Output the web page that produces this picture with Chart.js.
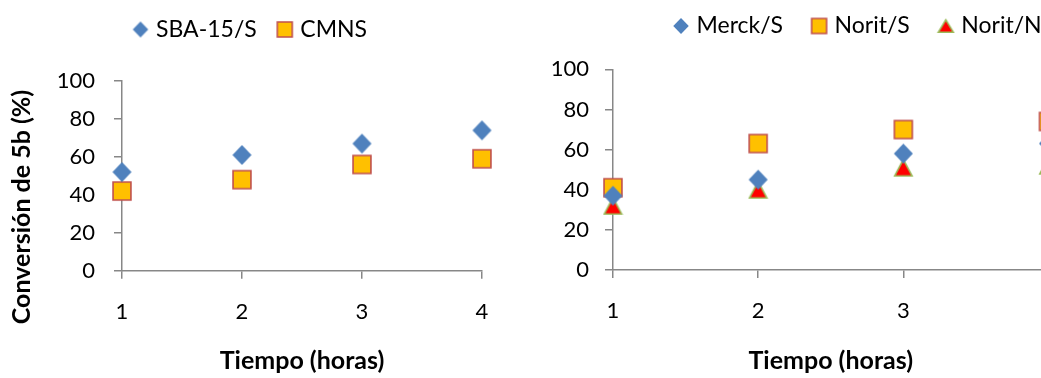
<!DOCTYPE html>
<html>
<head>
<meta charset="utf-8">
<title>Conversión de 5b frente al tiempo</title>
<script src="https://cdn.jsdelivr.net/npm/chart.js@4.4.1/dist/chart.umd.min.js"></script>
<style>
  html, body { margin: 0; padding: 0; background: #fff; overflow: hidden; width: 1041px; height: 378px; }
  #wrap { position: relative; width: 1041px; height: 378px; overflow: hidden; }
  canvas { position: absolute; top: 0; }
  #left { left: 0; }
  #right { left: 520px; }
</style>
</head>
<body>
<div id="wrap">
  <canvas id="left" width="520" height="378"></canvas>
  <canvas id="right" width="560" height="378"></canvas>
</div>
<script>
// Reaction time (hours) and conversion of 5b (%) per catalyst
const hours = [1, 2, 3, 4];
const hourTicks = [1, 2, 3, 4];
const pctTicks = [0, 20, 40, 60, 80, 100];

const sba15S = [52, 61, 67, 74];
const cmns   = [42, 48, 56, 59];

const merckS = [37, 45, 58, 63];
const noritS = [41, 63, 70, 74];
const noritN = [32, 40, 51, 52];

const yTitle = 'Conversión de 5b (%)';
const xTitle = 'Tiempo (horas)';

const FONT = 'Lato';
const AXIS_GREY = '#878787';
const TICK_SIZE = 22;
const LEGEND_SIZE = 23;
const TITLE_SIZE = 25;

// Marker sprites (Excel-like diamond, square and triangle)
function marker(kind, w, h) {
  const c = document.createElement('canvas');
  c.width = Math.ceil(w) + 2;
  c.height = Math.ceil(h) + 2;
  const g = c.getContext('2d');
  const cx = c.width / 2, cy = c.height / 2;
  const lw = 1.6;
  g.beginPath();
  if (kind === 'diamond') {
    g.moveTo(cx, cy - h / 2);
    g.lineTo(cx + w / 2, cy);
    g.lineTo(cx, cy + h / 2);
    g.lineTo(cx - w / 2, cy);
    g.closePath();
    g.fillStyle = '#4f81bd';
    g.fill();
  } else if (kind === 'square') {
    g.rect(cx - w / 2 + lw / 2, cy - h / 2 + lw / 2, w - lw, h - lw);
    g.fillStyle = '#ffc000';
    g.fill();
    g.lineWidth = lw;
    g.strokeStyle = '#c0504d';
    g.stroke();
  } else {
    g.moveTo(cx, cy - h / 2 + lw / 2);
    g.lineTo(cx + w / 2 - lw / 2, cy + h / 2 - lw / 2);
    g.lineTo(cx - w / 2 + lw / 2, cy + h / 2 - lw / 2);
    g.closePath();
    g.fillStyle = '#ff0000';
    g.fill();
    g.lineWidth = lw;
    g.strokeStyle = '#9bbb59';
    g.stroke();
  }
  return c;
}

const pts = ys => hours.map((h, i) => ({ x: h, y: ys[i] }));

// Places the legend row at a fixed anchor (left edge of the first marker box, row centre)
const legendAnchor = {
  id: 'legendAnchor',
  afterLayout(chart, args, o) {
    const lg = chart.legend;
    if (!lg || o.x == null) return;
    const pad = lg.options.labels.padding;
    const w = lg.width, h = lg.height;
    lg.left = o.x - pad;
    lg.right = lg.left + w;
    lg.top = o.y - pad - o.fontSize / 2;
    lg.bottom = lg.top + h;
  }
};

// Rotated axis title drawn beside the value axis
const sideTitle = {
  id: 'sideTitle',
  afterDraw(chart, args, o) {
    if (!o.text) return;
    const ctx = chart.ctx;
    ctx.save();
    ctx.translate(o.x, o.y);
    ctx.rotate(-Math.PI / 2);
    ctx.font = o.font;
    ctx.fillStyle = o.color;
    ctx.textAlign = 'center';
    ctx.textBaseline = 'middle';
    ctx.fillText(o.text, 0, 0);
    ctx.restore();
  }
};

function makeChart(canvasId, datasets, legendMarks, s) {
  const tickFont = { family: FONT, size: TICK_SIZE };
  const legendFont = { family: FONT, size: LEGEND_SIZE };
  const titleFont = { family: FONT, size: TITLE_SIZE, weight: 'bold' };
  return new Chart(document.getElementById(canvasId), {
    type: 'scatter',
    data: { datasets },
    options: {
      responsive: false,
      animation: false,
      devicePixelRatio: 1,
      events: [],
      layout: { padding: { top: s.padTop, left: 0, right: s.padRight, bottom: 0 } },
      elements: { point: { radius: 11, hoverRadius: 11 } },
      plugins: {
        tooltip: { enabled: false },
        legend: {
          display: true,
          position: 'top',
          align: 'start',
          labels: {
            usePointStyle: true,
            boxWidth: 8,
            padding: s.legendGap,
            color: '#000',
            font: legendFont,
            generateLabels: chart => chart.data.datasets.map((ds, i) => ({
              text: ds.label,
              pointStyle: legendMarks[i],
              fillStyle: '#000',
              strokeStyle: '#000',
              lineWidth: 0,
              hidden: false,
              datasetIndex: i
            }))
          }
        },
        legendAnchor: { x: s.legendX, y: s.legendY, fontSize: LEGEND_SIZE },
        sideTitle: s.sideTitle || {}
      },
      scales: {
        x: {
          type: 'linear',
          min: hourTicks[0],
          max: hourTicks[hourTicks.length - 1],
          afterBuildTicks: sc => { sc.ticks = hourTicks.map(v => ({ value: v })); },
          afterFit: sc => { sc.height = s.xHeight; },
          grid: { drawOnChartArea: false, drawTicks: true, tickLength: 8, color: AXIS_GREY, lineWidth: 1.5 },
          border: { display: true, color: AXIS_GREY, width: 1.5 },
          ticks: { padding: 20, color: '#000', font: tickFont, callback: v => String(v) },
          title: { display: true, text: xTitle, color: '#000', font: titleFont, padding: { top: 0, bottom: 2 } }
        },
        y: {
          type: 'linear',
          min: pctTicks[0],
          max: pctTicks[pctTicks.length - 1],
          afterBuildTicks: sc => { sc.ticks = pctTicks.map(v => ({ value: v })); },
          afterFit: sc => { sc.width = s.yWidth; },
          grid: { drawOnChartArea: false, drawTicks: true, tickLength: 8, color: AXIS_GREY, lineWidth: 1.5 },
          border: { display: true, color: AXIS_GREY, width: 1.5 },
          ticks: { padding: s.yTickPad, color: '#000', font: tickFont, callback: v => String(v) }
        }
      }
    },
    plugins: [legendAnchor, sideTitle]
  });
}

function draw() {
  const diamondBig = marker('diamond', 19, 20);
  const squareBig = marker('square', 19.5, 19.5);
  const triangleBig = marker('triangle', 19, 18);
  const diamondSmall = marker('diamond', 15.5, 16);
  const squareSmall = marker('square', 16.5, 16.5);
  const triangleSmall = marker('triangle', 16.5, 14);

  // legend height = font + gap + 10, so padTop keeps the plot top fixed
  makeChart('left', [
    { label: 'SBA-15/S', data: pts(sba15S), pointStyle: diamondBig, clip: false },
    { label: 'CMNS', data: pts(cmns), pointStyle: squareBig, clip: false }
  ], [diamondSmall, squareSmall], {
    padTop: 81 - (LEGEND_SIZE + 24 + 10), padRight: 38, yWidth: 122, xHeight: 378 - 270.7, yTickPad: 19,
    legendGap: 24, legendX: 136.5, legendY: 29.5,
    sideTitle: { text: yTitle, x: 22, y: 207, font: 'bold ' + TITLE_SIZE + 'px ' + FONT, color: '#000' }
  });

  makeChart('right', [
    { label: 'Merck/S', data: pts(merckS), pointStyle: diamondBig, clip: false },
    { label: 'Norit/S', data: pts(noritS), pointStyle: squareBig, clip: false },
    { label: 'Norit/N', data: pts(noritN), pointStyle: triangleBig, clip: false }
  ], [diamondSmall, squareSmall, triangleSmall], {
    padTop: 69.3 - (LEGEND_SIZE + 32 + 10), padRight: 31.5, yWidth: 93, xHeight: 378 - 270, yTickPad: 16,
    legendGap: 32, legendX: 157, legendY: 26
  });
}

Promise.all([
  document.fonts.load(TICK_SIZE + 'px ' + FONT),
  document.fonts.load('bold ' + TITLE_SIZE + 'px ' + FONT)
]).then(draw, draw);
</script>
</body>
</html>
